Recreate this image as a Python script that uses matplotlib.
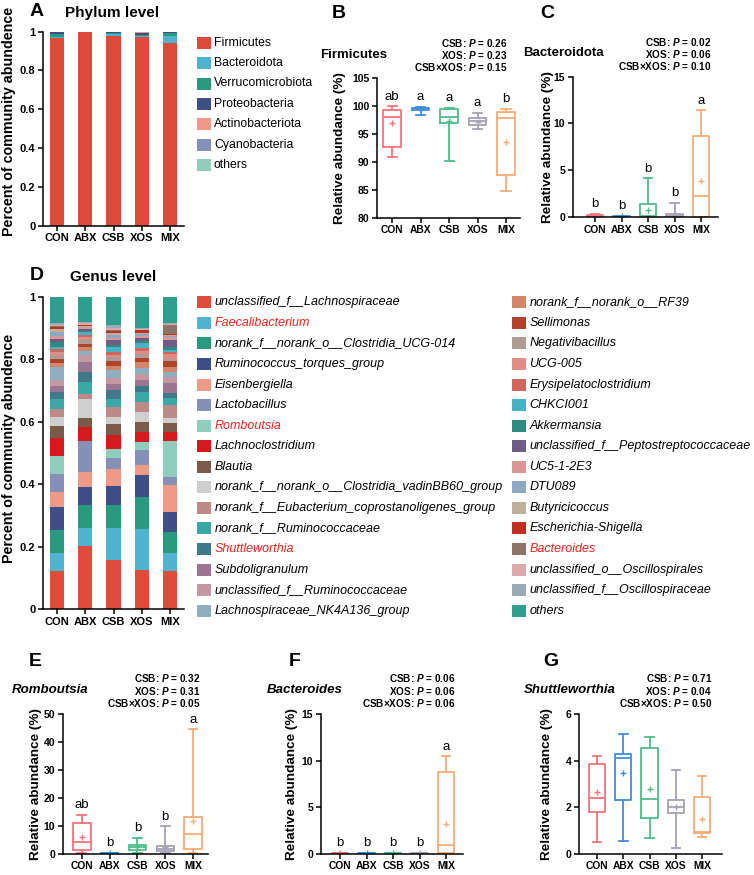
import numpy as np
import matplotlib
matplotlib.use('Agg')
import matplotlib.pyplot as plt
from matplotlib.patches import Rectangle

plt.rcParams['font.family'] = ['Liberation Sans', 'DejaVu Sans']
plt.rcParams['mathtext.fontset'] = 'custom'
plt.rcParams['mathtext.it'] = 'Liberation Sans:italic:bold'
plt.rcParams['mathtext.rm'] = 'Liberation Sans:bold'
plt.rcParams['mathtext.bf'] = 'Liberation Sans:bold'

# ---------------- DATA ----------------
groups = ['CON', 'ABX', 'CSB', 'XOS', 'MIX']

# Panel A: phylum relative abundance (fractions); "others" fills to 1
phyla = ['Firmicutes', 'Bacteroidota', 'Verrucomicrobiota', 'Proteobacteria',
         'Actinobacteriota', 'Cyanobacteria', 'others']
firmicutes = [0.969, 0.995, 0.975, 0.974, 0.940]
bacteroidota = [0.002, 0.001, 0.010, 0.003, 0.037]
verrucomicrobiota = [0.016, 0.001, 0.006, 0.004, 0.013]
proteobacteria = [0.008, 0.001, 0.005, 0.010, 0.005]
actinobacteriota = [0.002, 0.001, 0.002, 0.006, 0.002]
cyanobacteria = [0.001, 0.000, 0.001, 0.001, 0.001]
phylum_colors = ['#DE4A3A', '#4DB3D1', '#2A9A7F', '#3F4E86', '#EE9A86', '#8690B6', '#8FCDBD']

# Panel D: genus level, cumulative top of each genus segment (others fill to 1)
genus_names = [
    'unclassified_f__Lachnospiraceae', 'Faecalibacterium', 'norank_f__norank_o__Clostridia_UCG-014',
    'Ruminococcus_torques_group', 'Eisenbergiella', 'Lactobacillus', 'Romboutsia',
    'Lachnoclostridium', 'Blautia', 'norank_f__norank_o__Clostridia_vadinBB60_group',
    'norank_f__Eubacterium_coprostanoligenes_group', 'norank_f__Ruminococcaceae', 'Shuttleworthia',
    'Subdoligranulum', 'unclassified_f__Ruminococcaceae', 'Lachnospiraceae_NK4A136_group',
    'norank_f__norank_o__RF39', 'Sellimonas', 'Negativibacillus', 'UCG-005',
    'Erysipelatoclostridium', 'CHKCI001', 'Akkermansia', 'unclassified_f__Peptostreptococcaceae',
    'UC5-1-2E3', 'DTU089', 'Butyricicoccus', 'Escherichia-Shigella', 'Bacteroides',
    'unclassified_o__Oscillospirales', 'unclassified_f__Oscillospiraceae', 'others']
genus_highlight = ['Faecalibacterium', 'Romboutsia', 'Shuttleworthia', 'Bacteroides']
genus_colors = ['#E04B3A', '#4FB4D0', '#2A9A7F', '#3F4E86', '#EE9A86', '#8690B6', '#8FCDBD',
                '#D51A1D', '#7A5A48', '#CFCFCF', '#BE8A88', '#3AA9A6', '#3E7A8A', '#9C7590',
                '#C597A2', '#8FAFC0', '#D2866A', '#B0432A', '#AE9C94', '#E28C84', '#D0675E',
                '#46B2C4', '#2F8A80', '#6E5C87', '#D99795', '#8EA7C5', '#BFB09A', '#BF3020',
                '#8E7468', '#DCAAAA', '#9AAAB6', '#2E9E8F']
genus_top_CON = [0.123, 0.178, 0.253, 0.328, 0.376, 0.433, 0.491, 0.547, 0.586, 0.614, 0.642,
                 0.671, 0.696, 0.715, 0.733, 0.776, 0.787, 0.800, 0.813, 0.824, 0.831, 0.838,
                 0.856, 0.863, 0.874, 0.888, 0.895, 0.904, 0.906, 0.910, 0.915]
genus_top_ABX = [0.202, 0.258, 0.332, 0.390, 0.438, 0.538, 0.538, 0.582, 0.612, 0.671, 0.690,
                 0.726, 0.760, 0.790, 0.813, 0.827, 0.838, 0.848, 0.861, 0.870, 0.878, 0.888,
                 0.891, 0.895, 0.902, 0.904, 0.907, 0.908, 0.909, 0.917, 0.920]
genus_top_CSB = [0.157, 0.260, 0.333, 0.395, 0.449, 0.485, 0.512, 0.556, 0.593, 0.614, 0.648,
                 0.674, 0.701, 0.720, 0.739, 0.765, 0.778, 0.794, 0.806, 0.813, 0.824, 0.840,
                 0.845, 0.861, 0.869, 0.877, 0.885, 0.891, 0.893, 0.899, 0.910]
genus_top_XOS = [0.125, 0.257, 0.360, 0.429, 0.461, 0.509, 0.536, 0.568, 0.600, 0.632, 0.664,
                 0.694, 0.715, 0.733, 0.752, 0.773, 0.792, 0.805, 0.816, 0.826, 0.837, 0.851,
                 0.858, 0.867, 0.874, 0.879, 0.885, 0.893, 0.894, 0.897, 0.900]
genus_top_MIX = [0.122, 0.180, 0.245, 0.312, 0.397, 0.422, 0.539, 0.567, 0.594, 0.612, 0.653,
                 0.677, 0.693, 0.723, 0.744, 0.760, 0.776, 0.795, 0.802, 0.816, 0.824, 0.829,
                 0.840, 0.861, 0.870, 0.874, 0.877, 0.880, 0.908, 0.911, 0.915]

# Box stats per group: [whisker low, Q1, median, Q3, whisker high, mean]
firm_box = [[90.9, 92.6, 98.1, 99.3, 100.0, 96.9],
            [98.5, 99.3, 99.6, 99.7, 99.9, 99.5],
            [90.2, 97.0, 98.0, 99.5, 99.7, 97.4],
            [95.9, 96.6, 97.3, 97.8, 98.8, 97.2],
            [84.8, 87.7, 97.8, 99.0, 99.5, 93.6]]
bactd_box = [[0.0, 0.02, 0.08, 0.2, 0.35, 0.12],
             [0.0, 0.02, 0.05, 0.1, 0.15, 0.06],
             [0.0, 0.02, 0.1, 1.4, 4.15, 0.75],
             [0.0, 0.02, 0.1, 0.3, 1.5, 0.2],
             [0.0, 0.05, 2.2, 8.7, 11.4, 3.9]]
romb_box = [[0.2, 1.2, 4.2, 10.9, 13.9, 5.9],
            [0.05, 0.1, 0.2, 0.3, 0.4, 0.2],
            [0.3, 1.2, 2.4, 3.1, 5.7, 2.5],
            [0.4, 1.0, 1.8, 2.9, 9.9, 2.4],
            [0.4, 1.7, 7.2, 13.3, 44.6, 11.6]]
bacs_box = [[0.0, 0.02, 0.05, 0.08, 0.1, 0.05],
            [0.0, 0.02, 0.05, 0.08, 0.1, 0.05],
            [0.0, 0.02, 0.05, 0.08, 0.1, 0.05],
            [0.0, 0.02, 0.05, 0.08, 0.1, 0.05],
            [0.02, 0.1, 0.93, 8.74, 10.5, 3.2]]
shut_box = [[0.49, 1.78, 2.38, 3.88, 4.2, 2.66],
            [0.56, 2.29, 4.11, 4.28, 5.14, 3.48],
            [0.66, 1.52, 2.35, 4.57, 5.01, 2.8],
            [0.23, 1.76, 2.03, 2.3, 3.61, 1.99],
            [0.74, 0.89, 0.92, 2.42, 3.35, 1.5]]

firm_letters = ['ab', 'a', 'a', 'a', 'b']
bactd_letters = ['b', 'b', 'b', 'b', 'a']
romb_letters = ['ab', 'b', 'b', 'b', 'a']
bacs_letters = ['b', 'b', 'b', 'b', 'a']
shut_letters = ['', '', '', '', '']

firm_p = ['0.26', '0.23', '0.15']
bactd_p = ['0.02', '0.06', '0.10']
romb_p = ['0.32', '0.31', '0.05']
bacs_p = ['0.06', '0.06', '0.06']
shut_p = ['0.71', '0.04', '0.50']

box_colors = ['#F4737B', '#3F8EDD', '#4DBE8B', '#A3A3B5', '#F5AD77']

# ---------------- FIGURE ----------------
W, H = 754, 875
fig = plt.figure(figsize=(W / 100, H / 100), dpi=100)


def axes_px(l, t, r, b):
    return fig.add_axes([l / W, 1 - b / H, (r - l) / W, (b - t) / H])


def ftext(x, y, s, **kw):
    fig.text(x / W, 1 - y / H, s, **kw)


def style(ax, xlabsize, ylabsize):
    for s in ['top', 'right']:
        ax.spines[s].set_visible(False)
    for s in ['left', 'bottom']:
        ax.spines[s].set_linewidth(1.1)
    ax.tick_params(direction='out', length=3.5, width=1.1, pad=2)
    for lab in ax.get_xticklabels():
        lab.set_fontweight('bold')
        lab.set_fontsize(xlabsize)
    for lab in ax.get_yticklabels():
        lab.set_fontweight('bold')
        lab.set_fontsize(ylabsize)


x = np.arange(1, 6)

# ---- Panel A ----
axA = axes_px(43, 31.5, 184, 225.7)
phylum_vals = [firmicutes, bacteroidota, verrucomicrobiota, proteobacteria,
               actinobacteriota, cyanobacteria]
bottom = np.zeros(5)
for vals, c in zip(phylum_vals, phylum_colors[:-1]):
    axA.bar(x, vals, 0.5, bottom=bottom, color=c, edgecolor='none')
    bottom = bottom + np.array(vals)
axA.bar(x, 1 - bottom, 0.5, bottom=bottom, color=phylum_colors[-1], edgecolor='none')
axA.set_xlim(0.5, 5.5)
axA.set_ylim(0, 1)
axA.set_xticks(x, groups)
axA.set_yticks([0, 0.2, 0.4, 0.6, 0.8, 1.0], ['0', '0.2', '0.4', '0.6', '0.8', '1'])
style(axA, 8, 8)
ftext(9, 121, 'Percent of community abundence', rotation=90, ha='center', va='center',
      fontsize=10.3, fontweight='bold')
ftext(30, 12, 'A', fontsize=14, fontweight='bold', ha='left', va='center')
ftext(65, 13, 'Phylum level', fontsize=11, fontweight='bold', ha='left', va='center')
for i, (name, c) in enumerate(zip(phyla, phylum_colors)):
    yc = 42.7 + i * 20.4
    fig.add_artist(Rectangle((197 / W, 1 - (yc + 6) / H), 13.5 / W, 12 / H,
                             transform=fig.transFigure, color=c, lw=0))
    ftext(214, yc, name, fontsize=8.8, ha='left', va='center')

# ---- Panel D ----
axD = axes_px(43, 296.7, 184, 609)
tops = np.array([genus_top_CON, genus_top_ABX, genus_top_CSB, genus_top_XOS, genus_top_MIX])
bottom = np.zeros(5)
for k in range(tops.shape[1]):
    axD.bar(x, tops[:, k] - bottom, 0.5, bottom=bottom, color=genus_colors[k], edgecolor='none')
    bottom = tops[:, k]
axD.bar(x, 1 - bottom, 0.5, bottom=bottom, color=genus_colors[-1], edgecolor='none')
axD.set_xlim(0.5, 5.5)
axD.set_ylim(0, 1)
axD.set_xticks(x, groups)
axD.set_yticks([0, 0.2, 0.4, 0.6, 0.8, 1.0], ['0', '0.2', '0.4', '0.6', '0.8', '1'])
style(axD, 8, 8)
ftext(9, 448, 'Percent of community abundence', rotation=90, ha='center', va='center',
      fontsize=10.3, fontweight='bold')
ftext(30, 275, 'D', fontsize=14, fontweight='bold', ha='left', va='center')
ftext(70, 277, 'Genus level', fontsize=11, fontweight='bold', ha='left', va='center')
for i, (name, c) in enumerate(zip(genus_names, genus_colors)):
    col, row = divmod(i, 16)
    yc = 302.3 + row * 20.56
    sx = 197 if col == 0 else 512
    tx = 214.5 if col == 0 else 529.5
    fig.add_artist(Rectangle((sx / W, 1 - (yc + 6) / H), 13.5 / W, 12 / H,
                             transform=fig.transFigure, color=c, lw=0))
    style_kw = dict(fontsize=9, ha='left', va='center', fontstyle='italic')
    if name in genus_highlight:
        style_kw['color'] = '#E8241C'
    ftext(tx, yc, name, **style_kw)


# ---- Box panels ----
def box_panel(rect, xlim, ylim, yticks, data, letters, pvals, title, title_italic,
              title_x, title_y, p_right, p_y, label, label_x, label_y, ylab_x):
    ax = axes_px(*rect)
    for i, (st, c) in enumerate(zip(data, box_colors)):
        stats = [dict(whislo=st[0], q1=st[1], med=st[2], q3=st[3], whishi=st[4], mean=st[5])]
        ax.bxp(stats, positions=[i + 1], widths=0.62, showmeans=True, showfliers=False,
               capwidths=[0.32], patch_artist=False,
               boxprops=dict(color=c, lw=1.3), whiskerprops=dict(color=c, lw=1.3),
               capprops=dict(color=c, lw=1.3), medianprops=dict(color=c, lw=1.3),
               meanprops=dict(marker='+', markeredgecolor=c, markersize=4, markeredgewidth=1.0))
        if letters[i]:
            ax.annotate(letters[i], xy=(i + 1, st[4]), xytext=(0, 2.5), textcoords='offset points',
                        ha='center', va='bottom', fontsize=9.5)
    ax.set_xlim(*xlim)
    ax.set_ylim(*ylim)
    ax.set_xticks(x, groups)
    ax.set_yticks(yticks)
    style(ax, 7.4, 7.5)
    ftext(title_x, title_y, title, fontsize=9.5, fontweight='bold',
          fontstyle='italic' if title_italic else 'normal', ha='left', va='center')
    labs = ['CSB: $P$ = ', 'XOS: $P$ = ', 'CSB\u00d7XOS: $P$ = ']
    for lab, p, yy in zip(labs, pvals, p_y):
        ftext(p_right, yy, lab + p, fontsize=7.2, fontweight='bold', ha='right', va='center')
    ftext(label_x, label_y, label, fontsize=14, fontweight='bold', ha='left', va='center')
    ftext(ylab_x, (rect[1] + rect[3]) / 2, 'Relative abundance (%)', rotation=90,
          ha='center', va='center', fontsize=9.7, fontweight='bold')
    return ax


box_panel((377, 78.3, 520, 217.7), (0.47, 5.49), (80, 105), [80, 85, 90, 95, 100, 105],
          firm_box, firm_letters, firm_p, 'Firmicutes', False, 320, 55,
          507, [43, 55, 67], 'B', 332, 13, 340)
box_panel((573, 76.7, 718, 217), (0.17, 5.64), (0, 15), [0, 5, 10, 15],
          bactd_box, bactd_letters, bactd_p, 'Bacteroidota', False, 523, 53,
          711, [42, 53.5, 65.7], 'C', 540, 13, 548)
box_panel((63, 714.3, 208, 853.7), (0.32, 5.54), (0, 50), [0, 10, 20, 30, 40, 50],
          romb_box, romb_letters, romb_p, 'Romboutsia', True, 12, 690,
          200, [678.3, 690.7, 702.7], 'E', 29, 661, 36)
box_panel((321, 714.3, 463, 853.7), (0.28, 5.64), (0, 15), [0, 5, 10, 15],
          bacs_box, bacs_letters, bacs_p, 'Bacteroides', True, 267, 690,
          455, [678.3, 690.7, 702.7], 'F', 289, 661, 292)
box_panel((579, 714.3, 722, 853.7), (0.31, 5.76), (0, 6), [0, 2, 4, 6],
          shut_box, shut_letters, shut_p, 'Shuttleworthia', True, 524, 690,
          712, [678.3, 690.7, 702.7], 'G', 543, 661, 547)

fig.savefig('out.png', dpi=100)
